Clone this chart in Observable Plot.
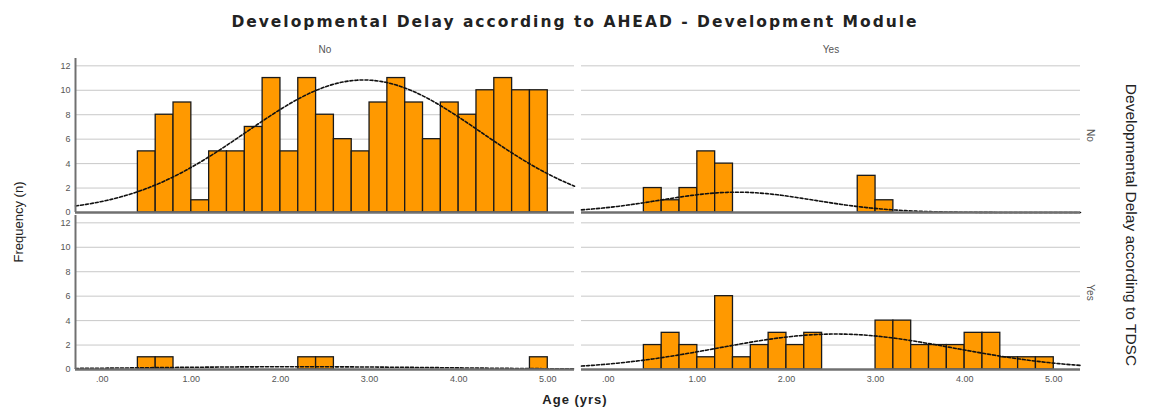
<!DOCTYPE html>
<html>
<head>
<meta charset="utf-8">
<script src="https://cdn.jsdelivr.net/npm/d3@7"></script>
<script src="https://cdn.jsdelivr.net/npm/@observablehq/plot@0.6"></script>
<style>
  html, body { margin: 0; padding: 0; background: #fff; }
  #title { width: 1150px; height: 35px; box-sizing: border-box; padding-top: 15px; line-height: 1;
    text-align: center; font-family: "DejaVu Sans", "Liberation Sans", Arial, sans-serif; font-weight: bold;
    font-size: 15.5px; letter-spacing: 2px; color: #222; }
</style>
</head>
<body>
<div id="title">Developmental Delay according to AHEAD - Development Module</div>
<div id="chart"></div>
<script>
// Column facets: Developmental Delay according to AHEAD; row facets: according to TDSC
const aheadLevels = ["No", "Yes"];
const tdscLevels = ["No", "Yes"];

// Histogram bins (age in years, left edges) and bin width
const binStarts = [0.4, 0.6, 0.8, 1.0, 1.2, 1.4, 1.6, 1.8, 2.0, 2.2, 2.4, 2.6, 2.8, 3.0, 3.2, 3.4, 3.6, 3.8, 4.0, 4.2, 4.4, 4.6, 4.8];
const binWidth = 0.2;

// Frequencies per bin for each panel
const countsAheadNoTdscNo   = [5, 8, 9, 1, 5, 5, 7, 11, 5, 11, 8, 6, 5, 9, 11, 9, 6, 9, 8, 10, 11, 10, 10];
const countsAheadYesTdscNo  = [2, 1, 2, 5, 4, 0, 0, 0, 0, 0, 0, 0, 3, 1, 0, 0, 0, 0, 0, 0, 0, 0, 0];
const countsAheadNoTdscYes  = [1, 1, 0, 0, 0, 0, 0, 0, 0, 1, 1, 0, 0, 0, 0, 0, 0, 0, 0, 0, 0, 0, 1];
const countsAheadYesTdscYes = [2, 3, 2, 1, 6, 1, 2, 3, 2, 3, 0, 0, 0, 4, 4, 2, 2, 2, 3, 3, 1, 1, 1];

// Axis ticks
const xTicks = [0, 1, 2, 3, 4, 5];
const yTicks = [0, 2, 4, 6, 8, 10, 12];
const xDomain = [-0.3, 5.3];
const yDomain = [0, 12.6];

const panels = [
  {ahead: "No",  tdsc: "No",  counts: countsAheadNoTdscNo},
  {ahead: "Yes", tdsc: "No",  counts: countsAheadYesTdscNo},
  {ahead: "No",  tdsc: "Yes", counts: countsAheadNoTdscYes},
  {ahead: "Yes", tdsc: "Yes", counts: countsAheadYesTdscYes}
];

// Bars
const bars = [];
for (const p of panels) {
  p.counts.forEach((c, i) => {
    if (c > 0) bars.push({ahead: p.ahead, tdsc: p.tdsc, x1: binStarts[i], x2: binStarts[i] + binWidth, count: c});
  });
}

// Fitted normal curves (mean and SD derived from the binned data)
const curve = [];
for (const p of panels) {
  const n = d3.sum(p.counts);
  const mids = binStarts.map(b => b + binWidth / 2);
  const mean = d3.sum(p.counts.map((c, i) => c * mids[i])) / n;
  const ss = d3.sum(p.counts.map((c, i) => c * (mids[i] - mean) ** 2));
  const sd = Math.sqrt(ss / (n - 1));
  const xs = d3.range(xDomain[0], xDomain[1] + 0.001, 0.04);
  for (const x of xs) {
    const z = (x - mean) / sd;
    curve.push({ahead: p.ahead, tdsc: p.tdsc, x, y: n * binWidth * Math.exp(-0.5 * z * z) / (sd * Math.sqrt(2 * Math.PI))});
  }
}

const leftEdges = tdscLevels.map(t => ({ahead: "No", tdsc: t}));

const fmt = d => d3.format(".2f")(d).replace(/^0/, "");

const chart = Plot.plot({
  width: 1150,
  height: 375,
  marginTop: 22,
  marginBottom: 41,
  marginLeft: 75,
  marginRight: 70,
  style: {fontFamily: "'Liberation Sans', Arial, sans-serif", fontSize: "9px", color: "#555", background: "#fff"},
  x: {domain: xDomain, ticks: xTicks, tickFormat: fmt, tickSize: 0, tickPadding: 6, label: null},
  y: {domain: yDomain, ticks: yTicks, tickSize: 0, tickPadding: 5, label: null},
  fx: {domain: aheadLevels, padding: 0.014, axis: "top", label: null, tickSize: 0, tickPadding: 6},
  fy: {domain: tdscLevels, padding: 0.02, axis: "right", label: null, tickSize: 0, tickPadding: 14, tickRotate: 90},
  marks: [
    Plot.ruleY(yTicks.filter(v => v > 0), {stroke: "#c8c8c8", strokeWidth: 1}),
    Plot.rectY(bars, {x1: "x1", x2: "x2", y: "count", fx: "ahead", fy: "tdsc", fill: "#FF9900", stroke: "#1a1a1a", strokeWidth: 1.3}),
    Plot.line(curve, {x: "x", y: "y", fx: "ahead", fy: "tdsc", stroke: "#111", strokeWidth: 1.6, strokeDasharray: "3,2"}),
    Plot.ruleY([0], {stroke: "#707070", strokeWidth: 2.5}),
    Plot.ruleX(leftEdges, {x: () => xDomain[0], fx: "ahead", fy: "tdsc", stroke: "#707070", strokeWidth: 2})
  ]
});

const svg = d3.select(chart);
svg.selectAll("g[aria-label='fx-axis tick label'] text, g[aria-label='fy-axis tick label'] text").style("font-size", "10px");
svg.append("text")
  .attr("transform", "translate(20,187) rotate(-90)")
  .attr("text-anchor", "middle").attr("dominant-baseline", "middle")
  .style("font-size", "13px").style("fill", "#222")
  .text("Frequency (n)");
svg.append("text")
  .attr("transform", "translate(1130,190) rotate(90)")
  .attr("text-anchor", "middle").attr("dominant-baseline", "middle")
  .style("font-size", "15.5px").style("fill", "#222")
  .text("Developmental Delay according to TDSC");
svg.append("text")
  .attr("x", 575).attr("y", 366)
  .attr("text-anchor", "middle").attr("dominant-baseline", "middle")
  .style("font-size", "13px").style("font-weight", "bold").style("letter-spacing", "1px").style("fill", "#222")
  .text("Age (yrs)");

document.getElementById("chart").appendChild(chart);
</script>
</body>
</html>
